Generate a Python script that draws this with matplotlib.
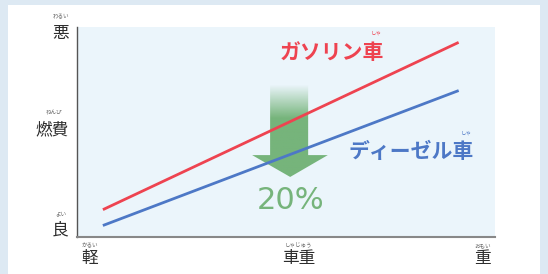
import matplotlib
matplotlib.use("Agg")
import matplotlib.pyplot as plt
import numpy as np
from matplotlib.patches import Polygon, Rectangle

plt.rcParams["font.family"] = ["Noto Sans CJK JP", "DejaVu Sans"]

# data (axes units 0..1: x = 車重, y = 燃費)
x_pts = [0.065, 0.91]
gasoline = [0.133, 0.924]
diesel = [0.057, 0.695]
series_names = ["ガソリン車", "ディーゼル車"]
series_ruby = "しゃ"
reduction_label = "20%"

x_ticks = [0.03, 0.53, 0.97]
x_labels = ["軽", "車重", "重"]
x_ruby = ["かるい", "しゃじゅう", "おもい"]
y_ticks = [0.967, 0.51, 0.033]
y_labels = ["悪", "燃費", "良"]
y_ruby = ["わるい", "ねんぴ", "よい"]

red = "#ee4350"
blue = "#4d78c6"
green = "#76b47b"
ink = "#2e2e2e"

W, H = 548, 274
fig = plt.figure(figsize=(W / 100, H / 100), dpi=100)
fig.patch.set_facecolor("#dde9f3")
fig.patches.append(Rectangle((8 / W, 0), 532 / W, 1 - 5 / H, transform=fig.transFigure,
                             facecolor="white", edgecolor="none", zorder=-10))

ax = fig.add_axes([77 / W, (H - 237) / H, 418 / W, 210 / H])
ax.set_facecolor("#ebf5fb")
ax.set_xlim(0, 1)
ax.set_ylim(0, 1)
ax.set_xticks([])
ax.set_yticks([])
for s in ["top", "right"]:
    ax.spines[s].set_visible(False)
ax.spines["left"].set_color("#555555")
ax.spines["bottom"].set_color("#888888")
ax.spines["left"].set_linewidth(1.0)
ax.spines["bottom"].set_linewidth(1.5)

# gradient arrow
arrow_xy = [(0.462, 0.724), (0.553, 0.724), (0.553, 0.39), (0.600, 0.39),
            (0.51, 0.286), (0.419, 0.39), (0.462, 0.39)]
poly = Polygon(arrow_xy, closed=True, facecolor="none", edgecolor="none")
ax.add_patch(poly)
grad = np.ones((100, 2, 4))
grad[..., :3] = matplotlib.colors.to_rgb(green)
alpha = np.clip((0.724 - np.linspace(0.28, 0.73, 100)) / 0.16, 0, 1)
grad[..., 3] = alpha[:, None]
img = ax.imshow(grad, extent=[0.41, 0.61, 0.28, 0.73], origin="lower",
                aspect="auto", zorder=1)
img.set_clip_path(poly)

ax.plot(x_pts, gasoline, color=red, lw=2, zorder=3)
ax.plot(x_pts, diesel, color=blue, lw=2, zorder=3)

ax.text(0.61, 0.88, series_names[0], color=red, fontsize=15, fontweight="bold",
        ha="center", va="center")
ax.text(0.715, 0.97, series_ruby, color=red, fontsize=4, ha="center", va="center")
ax.text(0.80, 0.405, series_names[1], color=blue, fontsize=15, fontweight="bold",
        ha="center", va="center")
ax.text(0.93, 0.495, series_ruby, color=blue, fontsize=4, ha="center", va="center")
ax.text(0.51, 0.175, reduction_label, color=green, fontsize=22,
        ha="center", va="center", family="DejaVu Sans")

for x, lab, rb in zip(x_ticks, x_labels, x_ruby):
    ax.text(x, -0.10, lab, transform=ax.transAxes, ha="center", va="center",
            fontsize=12, color=ink, clip_on=False)
    ax.text(x, -0.04, rb, transform=ax.transAxes, ha="center", va="center",
            fontsize=4, color="#666666", clip_on=False)
for y, lab, rb in zip(y_ticks, y_labels, y_ruby):
    ax.text(-0.02, y, lab, transform=ax.transAxes, ha="right", va="center",
            fontsize=12, color=ink, clip_on=False)
    ax.text(-0.02 - 0.018 * len(lab), y + 0.08, rb, transform=ax.transAxes,
            ha="center", va="center", fontsize=4, color="#666666", clip_on=False)

fig.savefig("out.png", dpi=100)
